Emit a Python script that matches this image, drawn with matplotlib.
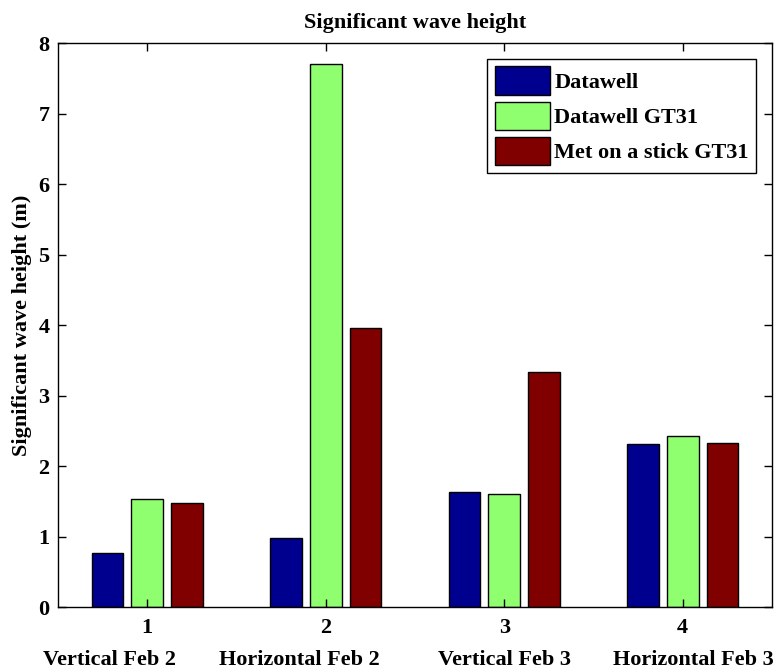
import numpy as np
import matplotlib
matplotlib.use("Agg")
import matplotlib.pyplot as plt

# ----------------------------
# Data
# ----------------------------
groups = [1, 2, 3, 4]
group_names = ["Vertical Feb 2", "Horizontal Feb 2", "Vertical Feb 3", "Horizontal Feb 3"]

series_names = ["Datawell", "Datawell GT31", "Met on a stick GT31"]
datawell = [0.77, 0.98, 1.63, 2.31]
datawell_gt31 = [1.53, 7.70, 1.60, 2.43]
stick_gt31 = [1.47, 3.96, 3.33, 2.33]

colors = ["#00008F", "#8FFF70", "#800000"]

# where the second label row sits (it is not centred on the ticks)
name_x = [0.79, 1.85, 3.0, 4.06]

# ----------------------------
# Style
# ----------------------------
plt.rcParams["font.family"] = ["Liberation Serif", "DejaVu Serif"]
plt.rcParams["font.weight"] = "bold"
plt.rcParams["font.size"] = 16

fig = plt.figure(figsize=(7.76, 6.72), dpi=100)
ax = fig.add_axes([0.0747, 0.0967, 0.9201, 0.8393])

# ----------------------------
# Bars (MATLAB style grouping)
# ----------------------------
x = np.array(groups, dtype=float)
n = len(series_names)
group_width = min(0.8, n / (n + 1.5))
slot = group_width / n
bar_w = 0.8 * slot

for i, (vals, name, col) in enumerate(zip([datawell, datawell_gt31, stick_gt31], series_names, colors)):
    offset = (i - (n - 1) / 2) * slot
    ax.bar(x + offset, vals, width=bar_w, color=col, edgecolor="black",
           linewidth=1.0, label=name)

ax.set_xlim(0.5, 4.5)
ax.set_ylim(0, 8)
ax.set_yticks(range(0, 9))
ax.set_xticks(groups)
ax.set_xticklabels([str(g) for g in groups], fontweight="bold")

# second row of x labels
for xn, name in zip(name_x, group_names):
    ax.text(xn, -0.102, name, transform=ax.get_xaxis_transform(),
            ha="center", va="baseline", fontsize=16, fontweight="bold")

ax.tick_params(direction="in", length=6, width=1, top=True, right=True,
               labelsize=16, pad=8)
ax.tick_params(axis="y", pad=6)
for s in ax.spines.values():
    s.set_linewidth(1.0)

ax.set_title("Significant wave height", fontsize=16, fontweight="bold", pad=11)
ax.set_ylabel("Significant wave height (m)", fontsize=16, fontweight="bold", labelpad=5)

leg = ax.legend(loc="upper right", fancybox=False, edgecolor="black",
                framealpha=1, handlelength=2.45, handleheight=1.6,
                handletextpad=0.2, labelspacing=0.3, borderpad=0.35,
                borderaxespad=0.7, prop={"weight": "bold", "size": 16})
leg.get_frame().set_linewidth(1.0)

fig.savefig("out.png", dpi=100)
